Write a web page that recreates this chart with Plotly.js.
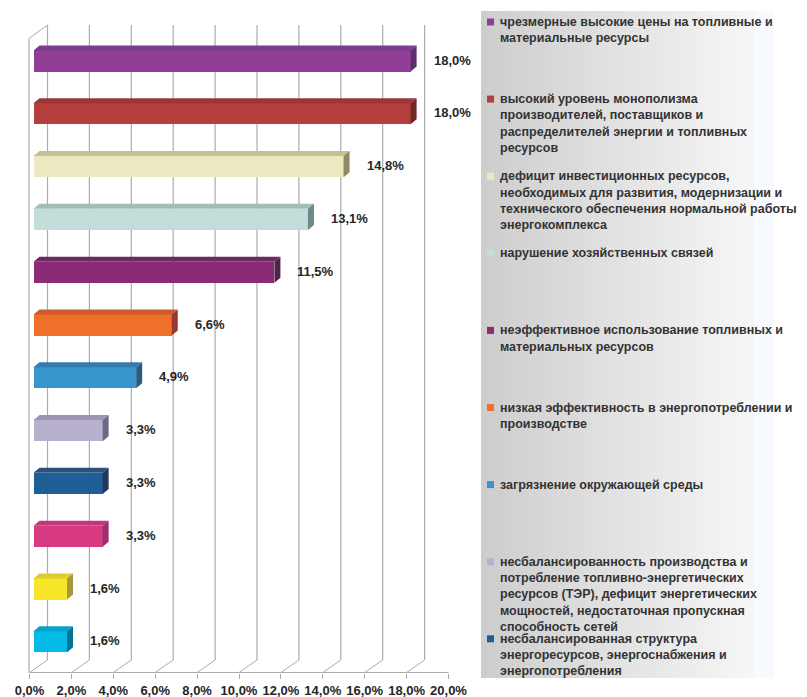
<!DOCTYPE html>
<html>
<head>
<meta charset="utf-8">
<script src="https://cdn.plot.ly/plotly-3.0.1.min.js"></script>
<style>html,body{margin:0;padding:0;background:#fff;}#chart{width:807px;height:697px;}</style>
</head>
<body>
<div id="chart"></div>
<script>
// ---- data ----
const categories = [
  "чрезмерные высокие цены на топливные и<br>материальные ресурсы",
  "высокий уровень монополизма<br>производителей, поставщиков и<br>распределителей энергии и топливных<br>ресурсов",
  "дефицит инвестиционных ресурсов,<br>необходимых для развития, модернизации и<br>технического обеспечения нормальной работы<br>энергокомплекса",
  "нарушение хозяйственных связей",
  "неэффективное использование топливных и<br>материальных ресурсов",
  "низкая эффективность в энергопотреблении и<br>производстве",
  "загрязнение окружающей среды",
  "несбалансированность производства и<br>потребление топливно-энергетических<br>ресурсов (ТЭР), дефицит энергетических<br>мощностей, недостаточная пропускная<br>способность сетей",
  "несбалансированная структура<br>энергоресурсов, энергоснабжения и<br>энергопотребления"
];
const values = [18.0, 18.0, 14.8, 13.1, 11.5, 6.6, 4.9, 3.3, 3.3, 3.3, 1.6, 1.6];
const frontColors = ["#913E97","#B43F3D","#ECE9C0","#C2DEDA","#8B2A76","#EE7029","#3895CC","#B7B0CF","#1E5F98","#D73A80","#F7E52A","#00BAE8"];
const topColors   = ["#7D3D8C","#983638","#C4C194","#A3BCB9","#6E2862","#CE5A2E","#347BB2","#9D95B2","#2A507E","#BE3A7D","#DCCB30","#0AA0CC"];
const sideColors  = ["#5C2E6E","#6E2828","#8E8A62","#6E8A87","#4F2447","#963A2C","#2C5A80","#6E6886","#22385A","#9A2F74","#A29A3B","#057090"];
const tickVals = [0,2,4,6,8,10,12,14,16,18,20];
const tickText = tickVals.map(v => v.toFixed(1).replace('.', ',') + '%');

// ---- geometry ----
const L = 15, R = 470, T = 10, B = 673;
const W = R - L, H = B - T;
const PXU = 20.95;          // px per percent
const barZero = 33.5, frontZero = 29.5;
const PYU = 52.8, firstCenter = 61;
const depthX = 18, depthY = 12.5; // wall depth in px
const barDX = 6, barDY = 5;       // bar depth in px
const py = p => (B - p) / H;      // pixel y -> paper
const pxp = p => (p - L) / W;     // pixel x -> paper
const FONT = "Liberation Sans, Arial, sans-serif";
const idx = values.map((v, i) => i);

const trace = {
  type: 'bar', orientation: 'h',
  x: values, y: idx, width: 0.4,
  marker: {color: frontColors, line: {width: 0}},
  hoverinfo: 'x', showlegend: false
};
const dummy2 = {type:'scatter', x:[0], y:[0], xaxis:'x2', yaxis:'y', mode:'markers', marker:{opacity:0}, hoverinfo:'skip', showlegend:false};

const shapes = [];
const gridColor = '#ababab';
// back wall gridlines and floor diagonals
tickVals.slice(0, 10).forEach(t => {
  shapes.push({type:'line', xref:'x2', xsizemode:'pixel', xanchor:t, x0:depthX, x1:depthX,
    yref:'paper', y0:py(B - 0.5 - depthY), y1:py(25), line:{color:gridColor, width:1.2}, layer:'below'});
  shapes.push({type:'line', xref:'x2', xsizemode:'pixel', xanchor:t, x0:0, x1:depthX,
    yref:'paper', y0:py(672.5), y1:py(672.5 - depthY), line:{color:gridColor, width:1}, layer:'below'});
});
// left wall front edge and top edge
shapes.push({type:'line', xref:'x2', xsizemode:'pixel', xanchor:0, x0:-0.5, x1:-0.5,
  yref:'paper', y0:py(672.5), y1:py(38.5), line:{color:gridColor, width:1.2}, layer:'below'});
shapes.push({type:'line', xref:'x2', xsizemode:'pixel', xanchor:0, x0:-0.5, x1:depthX,
  yref:'paper', y0:py(38.5), y1:py(25), line:{color:gridColor, width:1}, layer:'below'});
// floor front line
shapes.push({type:'line', xref:'x2', x0:0, x1:20, yref:'paper', y0:py(672.5), y1:py(672.5),
  line:{color:gridColor, width:1.2}, layer:'below'});

// 3D faces of bars
const ddx = barDX / PXU, ddy = barDY / PYU, hw = 0.2;
values.forEach((v, i) => {
  const yt = i - hw, yb = i + hw;
  shapes.push({type:'path', xref:'x', yref:'y', layer:'above', line:{width:0}, fillcolor: topColors[i],
    path:`M 0 ${yt} L ${v} ${yt} L ${v+ddx} ${yt-ddy} L ${ddx} ${yt-ddy} Z`});
  shapes.push({type:'path', xref:'x', yref:'y', layer:'above', line:{width:0}, fillcolor: sideColors[i],
    path:`M ${v} ${yt} L ${v+ddx} ${yt-ddy} L ${v+ddx} ${yb-ddy} L ${v} ${yb} Z`});
});

// legend background gradient (strips)
const lgL = 481, lgR = 774, lgT = 11, lgB = 678;
const nStrips = 60;
for (let s = 0; s < nStrips; s++) {
  const x0 = lgL + (lgR - lgL) * s / nStrips, x1 = lgL + (lgR - lgL) * (s + 1) / nStrips + 0.5;
  const f = s / (nStrips - 1);
  let r, g, b;
  if (x0 > 752) { r = 247; g = 250; b = 254; }
  else { r = Math.round(205 + 41 * f * 1.08); g = r; b = r; r = Math.min(r,246); g = Math.min(g,246); b = Math.min(b,247); }
  shapes.push({type:'rect', xref:'paper', yref:'paper', x0:pxp(x0), x1:pxp(Math.min(x1, lgR)), y0:py(lgB), y1:py(lgT),
    line:{width:0}, fillcolor:`rgb(${r},${g},${b})`, layer:'below'});
}

const annotations = [];
// value labels
values.forEach((v, i) => {
  annotations.push({xref:'x', yref:'y', x:v, y:i, xanchor:'left', yanchor:'middle', xshift:21, yshift:1,
    text: v.toFixed(1).replace('.', ',') + '%', showarrow:false,
    font:{family:FONT, size:13, color:'#262626', weight:700}});
});
// legend
const legFirst = 22, legStep = 77.1, lineStep = 16.3;
categories.forEach((c, i) => {
  const cy = legFirst + i * legStep;
  shapes.push({type:'rect', xref:'paper', yref:'paper', x0:pxp(487), x1:pxp(494), y0:py(cy + 3.5), y1:py(cy - 3.5),
    line:{width:0}, fillcolor: frontColors[i], layer:'above'});
  c.split('<br>').forEach((ln, j) => {
    annotations.push({xref:'paper', yref:'paper', x:pxp(498), y:py(cy + j * lineStep), xanchor:'left', yanchor:'middle',
      text: ln, showarrow:false, font:{family:FONT, size:12.5, color:'#333333', weight:700}});
  });
});

const layout = {
  width: 807, height: 697,
  margin: {l: L, r: 807 - R, t: T, b: 697 - B, pad: 0},
  paper_bgcolor: '#ffffff', plot_bgcolor: 'rgba(0,0,0,0)',
  showlegend: false,
  xaxis: {range: [(L - barZero) / PXU, (R - barZero) / PXU], visible: false, fixedrange: true},
  xaxis2: {overlaying: 'x', anchor: 'y', side: 'bottom',
    range: [(L - frontZero) / PXU, (R - frontZero) / PXU],
    tickvals: tickVals, ticktext: tickText, ticks: 'outside', ticklen: 5, tickcolor: gridColor, tickwidth: 1,
    showgrid: false, zeroline: false, showline: false,
    tickfont: {family: FONT, size: 13, color: '#262626', weight: 700}},
  yaxis: {range: [(B - firstCenter) / PYU, (T - firstCenter) / PYU], visible: false, fixedrange: true},
  shapes: shapes, annotations: annotations, bargap: 0
};
Plotly.newPlot('chart', [trace, dummy2], layout, {staticPlot: true});
</script>
</body>
</html>
